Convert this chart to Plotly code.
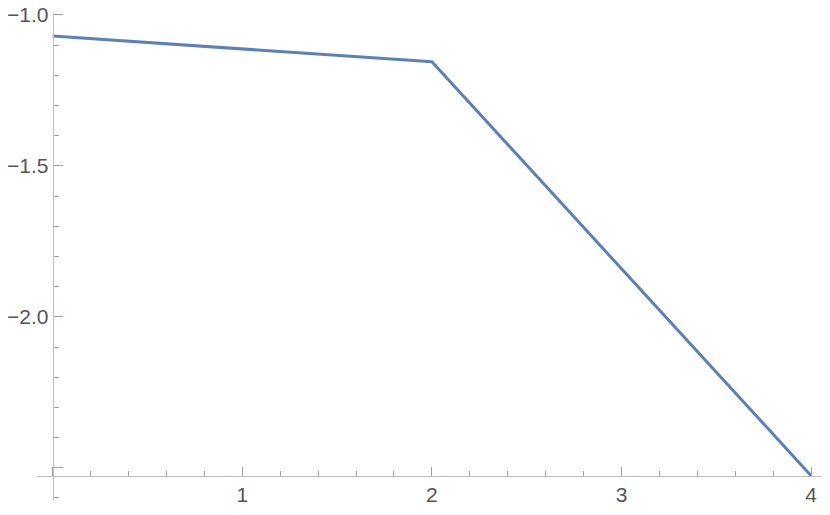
import plotly.graph_objects as go

x_vals = [0, 2, 4]
y_vals = [-1.07, -1.155, -2.526]

x_tick_vals = [0, 1, 2, 3, 4]
x_tick_text = ["", "1", "2", "3", "4"]
y_tick_vals = [-1.0, -1.5, -2.0, -2.5]
y_tick_text = ["\u22121.0", "\u22121.5", "\u22122.0", ""]

x_range = [-0.0828, 4.0997]
y_range = [-2.6067, -0.9934]

x_cross = 0
y_cross = y_vals[-1]

fig = go.Figure()
fig.add_trace(go.Scatter(x=x_vals, y=y_vals, mode="lines",
                         line=dict(color="#5E81B5", width=3), showlegend=False,
                         cliponaxis=False))

axis_common = dict(
    showgrid=False, zeroline=False, showline=True, linecolor="#bdbdbd", linewidth=1,
    ticks="inside", tickcolor="#a0a0a0", tickwidth=1, ticklen=9,
    tickfont=dict(family="Liberation Sans, Arial", size=21, color="#555555"),
    anchor="free", tickmode="array", automargin=False, ticklabeloverflow="allow",
)

fig.update_layout(
    width=822, height=507,
    margin=dict(l=29, r=0, t=5, b=15, autoexpand=False),
    paper_bgcolor="white", plot_bgcolor="white",
    xaxis=dict(range=x_range, tickvals=x_tick_vals, ticktext=x_tick_text,
               position=(y_cross - y_range[0]) / (y_range[1] - y_range[0]),
               minor=dict(tickmode="linear", tick0=0, dtick=0.2, ticks="inside",
                          ticklen=5, tickcolor="#a0a0a0", tickwidth=1),
               **axis_common),
    yaxis=dict(range=y_range, tickvals=y_tick_vals, ticktext=y_tick_text,
               position=(x_cross - x_range[0]) / (x_range[1] - x_range[0]),
               minor=dict(tickmode="linear", tick0=-1.0, dtick=0.1, ticks="inside",
                          ticklen=5, tickcolor="#a0a0a0", tickwidth=1),
               **axis_common),
)

fig.write_html("out.html")
